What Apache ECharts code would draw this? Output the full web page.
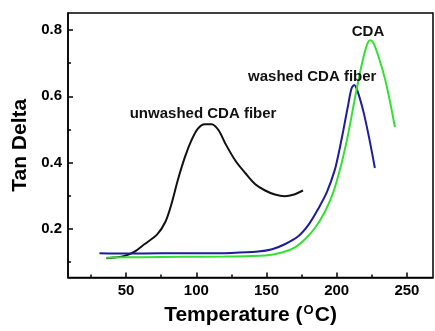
<!DOCTYPE html>
<html>
<head>
<meta charset="utf-8">
<style>
  html, body { margin: 0; padding: 0; background: #fff; }
  #chart { width: 435px; height: 331px; }
</style>
<script src="https://cdn.jsdelivr.net/npm/echarts@6/dist/echarts.min.js"></script>
</head>
<body>
<div id="chart"></div>
<script>
// Tan delta vs temperature for three cellulose diacetate samples
const unwashedTemp = [36, 42, 49, 56, 63, 72, 78, 82, 87, 92, 96.5, 101, 106, 111, 116, 121, 128, 135, 142, 149, 156, 163, 169, 176];
const unwashedTan  = [0.112, 0.114, 0.119, 0.132, 0.154, 0.183, 0.222, 0.271, 0.35, 0.418, 0.467, 0.502, 0.516, 0.516, 0.497, 0.455, 0.405, 0.368, 0.335, 0.316, 0.304, 0.299, 0.303, 0.316];

const washedTemp = [31, 50, 75, 100, 125, 144, 154, 163, 172.6, 180, 187, 193, 198.7, 201.5, 204.7, 208.2, 210.6, 212.5, 214.9, 218.9, 223, 227.2];
const washedTan  = [0.127, 0.126, 0.127, 0.127, 0.128, 0.132, 0.139, 0.154, 0.178, 0.213, 0.262, 0.311, 0.379, 0.43, 0.497, 0.575, 0.624, 0.634, 0.615, 0.556, 0.477, 0.384];

const cdaTemp = [36, 40, 60, 90, 120, 149, 161, 170, 177.4, 184.5, 191.6, 197.6, 203.5, 208.2, 213, 217.7, 221.3, 223.7, 226, 229.6, 234.3, 237.9, 241.5];
const cdaTan  = [0.113, 0.114, 0.115, 0.116, 0.117, 0.12, 0.129, 0.144, 0.169, 0.203, 0.252, 0.311, 0.399, 0.487, 0.595, 0.693, 0.752, 0.769, 0.762, 0.722, 0.654, 0.585, 0.507];

const xMajorTicks = [50, 100, 150, 200, 250];
const xMinorTicks = [25, 75, 125, 175, 225];
const yMajorTicks = [0.2, 0.4, 0.6, 0.8];
const yMinorTicks = [0.1, 0.3, 0.5, 0.7];

// curve annotations: [text, temperature, tan delta]
const curveNotes = [
  ['unwashed CDA fiber', 104.8, 0.546],
  ['washed CDA fiber', 182.6, 0.660],
  ['CDA', 222.3, 0.793]
];

const FONT = '"Liberation Sans", Arial, sans-serif';
const X_RANGE = [8.6, 268.6];
const Y_RANGE = [0.0535, 0.851];

const pairs = (xs, ys) => xs.map((x, i) => [x, ys[i]]);

const chart = echarts.init(document.getElementById('chart'), null, { renderer: 'canvas' });

const axisLine = { show: true, lineStyle: { color: '#000', width: 1.5 } };

chart.setOption({
  animation: false,
  backgroundColor: '#fff',
  grid: {
    left: 68, right: 2, top: 13, bottom: 47,
    show: true, borderColor: '#000', borderWidth: 1.5, backgroundColor: 'transparent'
  },
  xAxis: [
    {
      type: 'value', min: X_RANGE[0], max: X_RANGE[1],
      axisLine,
      splitLine: { show: false },
      axisTick: { show: true, inside: true, length: 5, customValues: xMajorTicks, lineStyle: { color: '#000', width: 1.5 } },
      axisLabel: {
        customValues: xMajorTicks, margin: 6,
        color: '#000', fontFamily: FONT, fontWeight: 'bold', fontSize: 15
      },
      name: '{t|Temperature (}{s|O}{t|C)}',
      nameLocation: 'middle', nameGap: 24,
      nameTextStyle: {
        rich: {
          t: { fontFamily: FONT, fontWeight: 'bold', fontSize: 21, color: '#000', lineHeight: 24 },
          s: { fontFamily: FONT, fontWeight: 'bold', fontSize: 13, color: '#000', verticalAlign: 'top', lineHeight: 24, padding: [0, 1, 0, 1] }
        }
      }
    },
    {
      type: 'value', min: X_RANGE[0], max: X_RANGE[1], position: 'bottom',
      axisLine: { show: false },
      splitLine: { show: false },
      axisTick: { show: true, inside: true, length: 3, customValues: xMinorTicks, lineStyle: { color: '#000', width: 1.5 } },
      axisLabel: { show: false }
    }
  ],
  yAxis: [
    {
      type: 'value', min: Y_RANGE[0], max: Y_RANGE[1],
      axisLine,
      splitLine: { show: false },
      axisTick: { show: true, inside: true, length: 5, customValues: yMajorTicks, lineStyle: { color: '#000', width: 1.5 } },
      axisLabel: {
        customValues: yMajorTicks, margin: 6,
        formatter: v => v.toFixed(1),
        color: '#000', fontFamily: FONT, fontWeight: 'bold', fontSize: 15
      },
      name: 'Tan Delta',
      nameLocation: 'middle', nameGap: 37,
      nameTextStyle: { fontFamily: FONT, fontWeight: 'bold', fontSize: 21, color: '#000' }
    },
    {
      type: 'value', min: Y_RANGE[0], max: Y_RANGE[1], position: 'left',
      axisLine: { show: false },
      splitLine: { show: false },
      axisTick: { show: true, inside: true, length: 3, customValues: yMinorTicks, lineStyle: { color: '#000', width: 1.5 } },
      axisLabel: { show: false }
    }
  ],
  series: [
    {
      name: 'unwashed CDA fiber', type: 'line',
      data: pairs(unwashedTemp, unwashedTan),
      showSymbol: false, smooth: 0.3,
      lineStyle: { color: '#111', width: 2 },
      markPoint: {
        symbol: 'circle', symbolSize: 0,
        label: { show: true, position: 'inside', formatter: p => p.name, color: '#111', fontFamily: FONT, fontWeight: 'bold', fontSize: 15 },
        data: curveNotes.map(n => ({ name: n[0], coord: [n[1], n[2]] }))
      }
    },
    {
      name: 'washed CDA fiber', type: 'line',
      data: pairs(washedTemp, washedTan),
      showSymbol: false, smooth: 0.3,
      lineStyle: { color: '#1c1c9c', width: 2 }
    },
    {
      name: 'CDA', type: 'line',
      data: pairs(cdaTemp, cdaTan),
      showSymbol: false, smooth: 0.3,
      lineStyle: { color: '#33e033', width: 2 }
    }
  ]
});
</script>
</body>
</html>
